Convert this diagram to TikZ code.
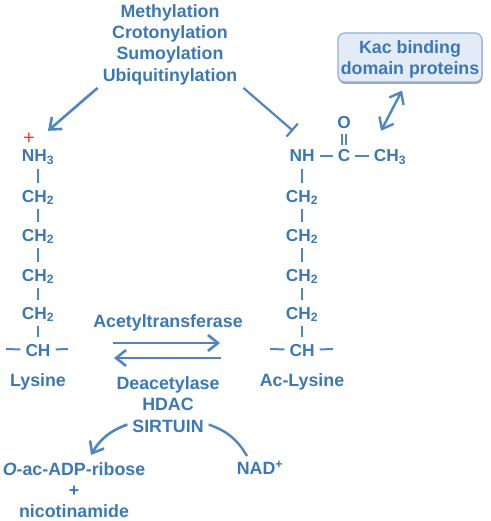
\documentclass[tikz,border=0pt]{standalone}
\usepackage{fontspec}
\setmainfont{Liberation Sans}
\usepackage{xcolor}
\usetikzlibrary{arrows.meta,shadows}
\definecolor{bluetext}{HTML}{3B78B8}
\definecolor{blueline}{HTML}{4F86C0}
\definecolor{boxfill}{HTML}{E3EBF6}
\definecolor{boxedge}{HTML}{8FB0D8}
\definecolor{redplus}{HTML}{F03A2A}
\tikzset{
  every node/.append style={font=\fontsize{17.8}{21.3}\selectfont\bfseries,text=bluetext,inner sep=0pt},
  label/.style={align=center},
  chem/.style={font=\fontsize{17.3}{20}\selectfont\bfseries,text height=12pt,text depth=0pt,minimum height=26pt,inner xsep=5pt},
  bond/.style={blueline,line width=2pt},
  arrow/.style={blueline,line width=2.6pt,-{Straight Barb[length=10pt,width=16pt,line width=2.6pt]}}
}

\begin{document}
\begin{tikzpicture}[x=1pt,y=-1pt]
  \useasboundingbox (0,0) rectangle (490,521);
  \node[label] (mods) at (170,44.5) {Methylation\\Crotonylation\\Sumoylation\\Ubiquitinylation};
  \node[label,draw=boxedge,line width=1.2pt,fill=boxfill,rounded corners=7pt,minimum width=144pt,minimum height=49pt,
    drop shadow={shadow xshift=0.5pt,shadow yshift=-2pt,opacity=.35,fill=black}] (kac) at (410,57.5) {\rule{0pt}{16pt}Kac binding\\domain proteins};

  \node[font=\fontsize{20}{20}\selectfont,text=redplus] (plus) at (29,139) {+};
  \node[chem] (nha) at (38,156) {NH\textsubscript{3}};
  \node[chem] (cha) at (38,196) {CH\textsubscript{2}};
  \node[chem] (chb) at (38,235) {CH\textsubscript{2}};
  \node[chem] (chc) at (38,275) {CH\textsubscript{2}};
  \node[chem] (chd) at (38,313) {CH\textsubscript{2}};
  \node[chem] (che) at (38,350) {CH};
  \coordinate (chel) at (6,349);
  \coordinate (cher) at (68,349);
  \node[label] (lys) at (38,382) {Lysine};

  \node[chem] (nhb) at (302,156) {NH};
  \node[chem,minimum height=22pt] (cco) at (344,156) {C};
  \node[chem,minimum height=22pt] (oxy) at (344,122.5) {O};
  \node[chem] (chm) at (390,156) {CH\textsubscript{3}};
  \node[chem] (chf) at (302,196) {CH\textsubscript{2}};
  \node[chem] (chg) at (302,235) {CH\textsubscript{2}};
  \node[chem] (chh) at (302,275) {CH\textsubscript{2}};
  \node[chem] (chi) at (302,313) {CH\textsubscript{2}};
  \node[chem] (chj) at (302,350) {CH};
  \coordinate (chjl) at (270,349);
  \coordinate (chjr) at (333,349);
  \node[label] (aclys) at (302,382) {Ac-Lysine};

  \node[label] (acet) at (168,323) {Acetyltransferase};
  \node[label] (deac) at (168,404.5) {Deacetylase\\HDAC\\SIRTUIN};
  \node[label] (oadp) at (74,490) {\textit{O}-ac-ADP-ribose\\+\\nicotinamide};
  \node[label] (nad) at (260,468) {NAD\textsuperscript{+}};
  \coordinate (fwdl) at (113,343);
  \coordinate (fwdr) at (220,343);
  \coordinate (revl) at (114,358);
  \coordinate (revr) at (221,358);

  \draw[bond] (nha) -- (cha);
  \draw[bond] (cha) -- (chb);
  \draw[bond] (chb) -- (chc);
  \draw[bond] (chc) -- (chd);
  \draw[bond] (chd) -- (che);
  \draw[bond] (chel) -- (che);
  \draw[bond] (che) -- (cher);
  \draw[bond] (nhb) -- (chf);
  \draw[bond] (chf) -- (chg);
  \draw[bond] (chg) -- (chh);
  \draw[bond] (chh) -- (chi);
  \draw[bond] (chi) -- (chj);
  \draw[bond] (chjl) -- (chj);
  \draw[bond] (chj) -- (chjr);
  \draw[bond] (nhb) -- (cco);
  \draw[bond] (cco) -- (chm);
  \draw[bond,double,double distance=2.6pt,line width=1.5pt] (oxy) -- (cco);

  \draw[arrow] ([xshift=-5pt,yshift=-3pt]mods.south west) -- ([xshift=10pt,yshift=12pt]nha.north);
  \draw[blueline,line width=2.2pt,-{Bar[width=17pt,line width=2.2pt]}] ([xshift=6pt,yshift=-3pt]mods.south east) -- ([xshift=-9pt,yshift=12pt]nhb.north);
  \draw[arrow,{Straight Barb[length=10pt,width=16pt,line width=2.4pt]}-{Straight Barb[length=10pt,width=16pt,line width=2.4pt]},line width=2.4pt] ([xshift=-8pt,yshift=-8pt]kac.south) -- ([xshift=-9pt,yshift=12pt]chm.north);
  \draw[arrow] (fwdl) -- (fwdr);
  \draw[arrow] (revr) -- (revl);
  \draw[arrow] ([xshift=11pt,yshift=8pt]deac.south west) to[bend right=20] ([xshift=17pt,yshift=7pt]oadp.north);
  \draw[blueline,line width=2.4pt] ([xshift=-11pt,yshift=8pt]deac.south east) to[bend left=20] ([xshift=-13pt,yshift=5pt]nad.north);
\end{tikzpicture}
\end{document}
